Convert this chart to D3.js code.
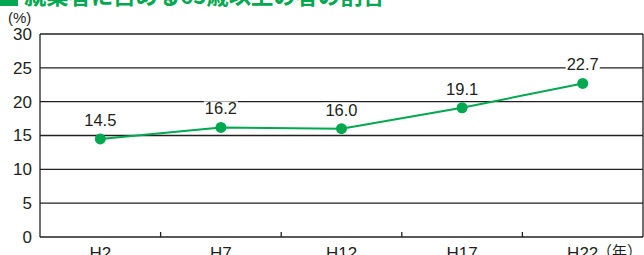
<!DOCTYPE html>
<html>
<head>
<meta charset="utf-8">
<script src="https://cdn.jsdelivr.net/npm/d3@7"></script>
<style>
  html, body { margin: 0; padding: 0; background: #fff; }
  svg { display: block; }
</style>
</head>
<body>
<svg id="chart"></svg>
<script>
// データ
const title = '就業者に占める65歳以上の者の割合'
const years = ['H2', 'H7', 'H12', 'H17', 'H22']
const shares = [14.5, 16.2, 16.0, 19.1, 22.7]
const yTicks = [0, 5, 10, 15, 20, 25, 30]

const width = 644, height = 255
const margin = { top: 34, right: 1, bottom: 18, left: 40 }
const innerW = width - margin.left - margin.right
const innerH = height - margin.top - margin.bottom
const GREEN = '#00a84f'
const FONT = "'Liberation Sans', Arial, sans-serif"

const svg = d3.select('#chart').attr('width', width).attr('height', height)

// タイトル（上端で切れている）
svg.append('rect')
  .attr('x', 0).attr('y', -14).attr('width', 18).attr('height', 20)
  .attr('fill', GREEN)
svg.append('text')
  .attr('x', 24).attr('y', 4)
  .attr('font-family', "'Noto Sans CJK JP', sans-serif")
  .attr('font-size', '22.3px').attr('font-weight', 'bold')
  .attr('fill', GREEN)
  .text(title)

const g = svg.append('g').attr('transform', `translate(${margin.left},${margin.top})`)

const x = d3.scaleBand().domain(years).range([0, innerW])
const y = d3.scaleLinear().domain([0, 30]).range([innerH, 0])

// 横グリッド
g.append('g')
  .selectAll('line')
  .data(yTicks)
  .join('line')
  .attr('x1', 0).attr('x2', innerW)
  .attr('y1', d => y(d)).attr('y2', d => y(d))
  .attr('stroke', '#231f20').attr('stroke-width', 1.3)

// 左右の枠
g.append('line').attr('x1', 0).attr('x2', 0).attr('y1', 0).attr('y2', innerH)
  .attr('stroke', '#231f20').attr('stroke-width', 1.3)
g.append('line').attr('x1', innerW).attr('x2', innerW).attr('y1', 0).attr('y2', innerH)
  .attr('stroke', '#231f20').attr('stroke-width', 1.3)

// Y 軸
g.append('g')
  .call(d3.axisLeft(y).tickValues(yTicks).tickSize(0).tickPadding(8))
  .call(a => a.select('.domain').remove())
  .call(a => a.selectAll('.tick text')
    .attr('font-family', FONT).attr('font-size', '17px').attr('fill', '#231f20'))

// X 軸（区切り目盛は内向き）
g.append('g')
  .attr('transform', `translate(0,${innerH})`)
  .call(d3.axisBottom(x).tickSize(0).tickPadding(6))
  .call(a => a.select('.domain').remove())
  .call(a => a.selectAll('.tick text')
    .attr('font-family', FONT).attr('font-size', '17px').attr('fill', '#231f20')
    .attr('dy', '0.93em'))

g.append('g')
  .selectAll('line')
  .data(years.slice(1))
  .join('line')
  .attr('x1', d => x(d)).attr('x2', d => x(d))
  .attr('y1', innerH).attr('y2', innerH - 5)
  .attr('stroke', '#231f20').attr('stroke-width', 1.3)

// 単位
svg.append('text')
  .attr('x', 8).attr('y', 23)
  .attr('font-family', FONT).attr('font-size', '15px').attr('fill', '#231f20')
  .text('(%)')
svg.append('text')
  .attr('x', 642).attr('y', 257)
  .attr('text-anchor', 'end')
  .attr('font-family', "'Noto Sans CJK JP', sans-serif").attr('font-size', '15px').attr('fill', '#231f20')
  .text('（年）')

// 折れ線
const pts = years.map((d, i) => ({ year: d, value: shares[i] }))
const cx = d => x(d.year) + x.bandwidth() / 2

g.append('path')
  .datum(pts)
  .attr('fill', 'none')
  .attr('stroke', GREEN)
  .attr('stroke-width', 2)
  .attr('d', d3.line().x(cx).y(d => y(d.value)))

g.append('g')
  .selectAll('circle')
  .data(pts)
  .join('circle')
  .attr('cx', cx).attr('cy', d => y(d.value))
  .attr('r', 5.5)
  .attr('fill', GREEN)

// 値ラベル（白背景つき）
const labels = g.append('g')
pts.forEach(d => {
  const t = labels.append('text')
    .attr('x', cx(d)).attr('y', y(d.value) - 13)
    .attr('text-anchor', 'middle')
    .attr('font-family', FONT).attr('font-size', '16.5px').attr('fill', '#231f20')
    .text(d.value.toFixed(1))
  const bb = t.node().getBBox()
  labels.insert('rect', 'text')
    .attr('x', bb.x - 1).attr('y', bb.y + 2)
    .attr('width', bb.width + 2).attr('height', bb.height - 4)
    .attr('fill', '#fff')
})
</script>
</body>
</html>
